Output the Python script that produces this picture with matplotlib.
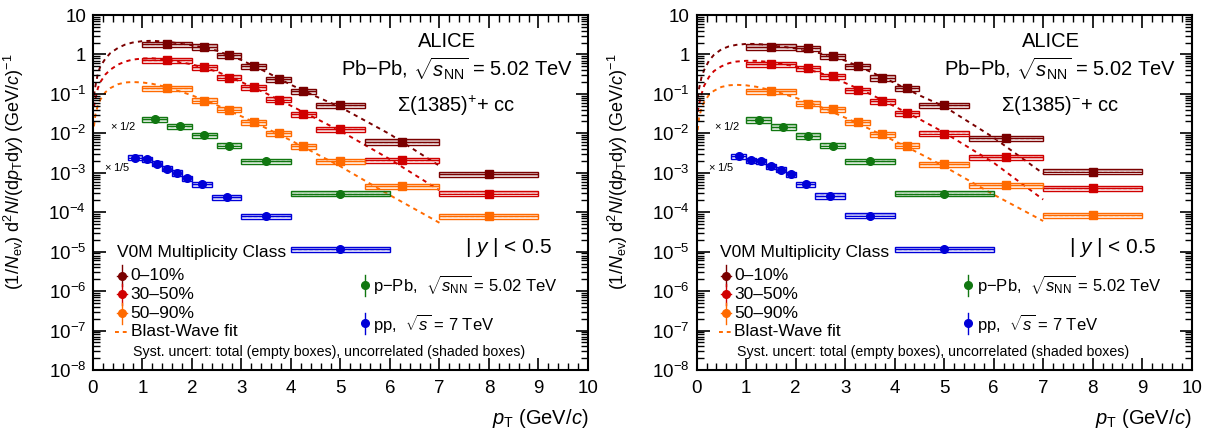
import numpy as np
import matplotlib
matplotlib.use("Agg")
import matplotlib.pyplot as plt
from matplotlib.ticker import MultipleLocator, LogLocator, FixedLocator, NullFormatter

plt.rcParams['font.family'] = ['Liberation Sans', 'DejaVu Sans']
plt.rcParams['mathtext.fontset'] = 'custom'
plt.rcParams['mathtext.rm'] = 'Liberation Sans'
plt.rcParams['mathtext.it'] = 'Liberation Sans:italic'
plt.rcParams['mathtext.bf'] = 'Liberation Sans:bold'

# Pb-Pb pT bins
pbpb_lo = [1.0, 2.0, 2.5, 3.0, 3.5, 4.0, 4.5, 5.5, 7.0]
pbpb_hi = [2.0, 2.5, 3.0, 3.5, 4.0, 4.5, 5.5, 7.0, 9.0]
pbpb_pt = [1.5, 2.25, 2.75, 3.25, 3.75, 4.25, 5.0, 6.25, 8.0]
# p-Pb pT bins (x 1/2)
ppb_lo = [1.0, 1.5, 2.0, 2.5, 3.0, 4.0]
ppb_hi = [1.5, 2.0, 2.5, 3.0, 4.0, 6.0]
ppb_pt = [1.25, 1.75, 2.25, 2.75, 3.5, 5.0]
# pp pT bins (x 1/5)
pp_lo = [0.7, 1.0, 1.2, 1.4, 1.6, 1.8, 2.0, 2.4, 3.0, 4.0]
pp_hi = [1.0, 1.2, 1.4, 1.6, 1.8, 2.0, 2.4, 3.0, 4.0, 6.0]
pp_pt = [0.85, 1.1, 1.3, 1.5, 1.7, 1.9, 2.2, 2.7, 3.5, 5.0]

# Sigma(1385)+ spectra
splus_0_10 = [1.84, 1.57, 0.95, 0.51, 0.238, 0.118, 0.051, 0.0061, 9.3e-4]
splus_30_50 = [0.71, 0.48, 0.26, 0.146, 0.072, 0.031, 0.0126, 2.05e-3, 2.97e-4]
splus_50_90 = [0.138, 0.068, 0.040, 0.019, 0.010, 0.0048, 1.97e-3, 4.6e-4, 7.9e-5]
splus_ppb = [0.0225, 0.0150, 0.0089, 0.0049, 1.96e-3, 2.95e-4]
splus_pp = [2.44e-3, 2.2e-3, 1.7e-3, 1.27e-3, 1.0e-3, 7.4e-4, 5.1e-4, 2.44e-4, 7.9e-5, 1.17e-5]

# Sigma(1385)- spectra
sminus_0_10 = [1.57, 1.43, 0.91, 0.51, 0.256, 0.138, 0.051, 7.6e-3, 1.07e-3]
sminus_30_50 = [0.57, 0.45, 0.278, 0.125, 0.066, 0.032, 0.0099, 2.45e-3, 4.0e-4]
sminus_50_90 = [0.118, 0.057, 0.041, 0.019, 0.0094, 0.0049, 1.65e-3, 4.8e-4, 8.4e-5]
sminus_ppb = [0.022, 0.0147, 0.0087, 0.0049, 1.96e-3, 2.95e-4]
sminus_pp = [2.63e-3, 2.1e-3, 1.95e-3, 1.47e-3, 1.2e-3, 9.1e-4, 5.1e-4, 2.6e-4, 8.2e-5, 1.17e-5]

# Blast-Wave fit curves
bw_pt = [0.02, 0.05, 0.1, 0.15, 0.25, 0.35, 0.5, 0.65, 0.8, 1.0, 1.2, 1.5,
         2.0, 2.5, 3.0, 3.5, 4.0, 4.5, 5.0, 6.0, 7.0]
bw_plus_0_10 = [0.09, 0.16, 0.33, 0.5, 0.78, 1.08, 1.45, 1.78, 2.0, 2.18, 2.22, 2.1,
                1.72, 1.25, 0.72, 0.36, 0.17, 0.087, 0.046, 0.0095, 1.5e-3]
bw_plus_30_50 = [0.047, 0.075, 0.14, 0.2, 0.31, 0.41, 0.55, 0.66, 0.74, 0.79, 0.8, 0.74,
                 0.56, 0.37, 0.2, 0.103, 0.05, 0.024, 0.0115, 2.2e-3, 3.6e-4]
bw_plus_50_90 = [0.015, 0.03, 0.052, 0.072, 0.11, 0.14, 0.175, 0.195, 0.2, 0.195, 0.18, 0.148,
                 0.092, 0.052, 0.027, 0.0135, 0.0066, 0.0031, 1.45e-3, 2.7e-4, 5.4e-5]
bw_minus_0_10 = [0.08, 0.14, 0.27, 0.4, 0.7, 0.98, 1.35, 1.6, 1.75, 1.85, 1.85, 1.72,
                 1.42, 1.07, 0.7, 0.37, 0.19, 0.092, 0.048, 0.0078, 9.6e-4]
bw_minus_30_50 = [0.035, 0.055, 0.1, 0.16, 0.27, 0.38, 0.5, 0.6, 0.66, 0.69, 0.69, 0.64,
                  0.5, 0.34, 0.19, 0.1, 0.048, 0.023, 0.0105, 1.8e-3, 2.1e-4]
bw_minus_50_90 = [0.012, 0.025, 0.045, 0.062, 0.095, 0.12, 0.15, 0.165, 0.17, 0.165, 0.152, 0.125,
                  0.08, 0.047, 0.025, 0.0128, 0.0064, 0.0031, 1.45e-3, 2.8e-4, 6e-5]

c_0_10 = '#7a0000'
c_30_50 = '#d00000'
c_50_90 = '#ff6a00'
c_ppb = '#117711'
c_pp = '#0000d8'

TOT = 0.15
UNC = 0.10


def draw_series(ax, pt, lo, hi, y, color, marker, ms):
    pt = np.array(pt); y = np.array(y)
    w = np.array(hi) - np.array(lo)
    # uncorrelated (shaded) boxes
    ax.bar(pt, y * 2 * UNC, width=w, bottom=y * (1 - UNC), color=color, alpha=0.3,
           edgecolor='white', hatch='...', linewidth=0, zorder=2)
    # total (empty) boxes
    ax.bar(pt, y * 2 * TOT, width=w, bottom=y * (1 - TOT), facecolor='none',
           edgecolor=color, linewidth=1.0, zorder=3)
    ax.errorbar(pt, y, xerr=w / 2, fmt=marker, color=color, ms=ms, lw=0.8, zorder=4)


def legend_mark(ax, x, y, color, marker, horiz):
    kw = dict(transform=ax.transAxes, clip_on=False, color=color)
    ax.plot([x, x], [y - 0.03, y + 0.03], lw=1, **kw)
    if horiz:
        ax.plot([x - 0.01, x + 0.01], [y, y], lw=1, **kw)
    ax.plot([x], [y], marker=marker, ms=5.5, ls='none', **kw)


def draw_panel(ax, d010, d3050, d5090, dppb, dpp, bw010, bw3050, bw5090, sigma_txt):
    ls = (0, (2.2, 2.2))
    ax.plot(bw_pt, bw010, ls=ls, color=c_0_10, lw=1.4, zorder=1)
    ax.plot(bw_pt, bw3050, ls=ls, color=c_30_50, lw=1.4, zorder=1)
    ax.plot(bw_pt, bw5090, ls=ls, color=c_50_90, lw=1.4, zorder=1)

    draw_series(ax, pbpb_pt, pbpb_lo, pbpb_hi, d010, c_0_10, 's', 6)
    draw_series(ax, pbpb_pt, pbpb_lo, pbpb_hi, d3050, c_30_50, 's', 6)
    draw_series(ax, pbpb_pt, pbpb_lo, pbpb_hi, d5090, c_50_90, 's', 6)
    draw_series(ax, ppb_pt, ppb_lo, ppb_hi, dppb, c_ppb, 'o', 5.5)
    draw_series(ax, pp_pt, pp_lo, pp_hi, dpp, c_pp, 'o', 5.5)

    ax.set_yscale('log')
    ax.set_xlim(0, 10)
    ax.set_ylim(1e-8, 10)
    ax.xaxis.set_major_locator(MultipleLocator(1))
    ax.xaxis.set_minor_locator(MultipleLocator(0.2))
    decades = [10.0 ** k for k in range(-8, 2)]
    ax.yaxis.set_major_locator(FixedLocator(decades))
    ax.yaxis.set_minor_locator(LogLocator(base=10, subs=np.arange(2, 10), numticks=50))
    ax.yaxis.set_minor_formatter(NullFormatter())
    ylabels = ['$10^{%d}$' % k for k in range(-8, 0)] + ['1', '10']
    ax.set_yticklabels(ylabels)
    ax.tick_params(which='both', direction='in', top=True, right=True, labelsize=13.5)
    ax.tick_params(which='major', length=9, width=1.2)
    ax.tick_params(which='minor', length=5, width=1)
    ax.tick_params(axis='x', pad=7)
    ax.tick_params(axis='y', pad=5)
    for s in ax.spines.values():
        s.set_linewidth(1.5)

    ax.set_xlabel(r'$p_{\rm T}$ (GeV/$c$)', fontsize=14.5, loc='right')
    ax.xaxis.set_label_coords(1.0, -0.105)
    ax.set_ylabel(r'(1/$N_{\rm ev}$) d$^{2}$$N$/(d$p_{\rm T}$d$y$) (GeV/$c$)$^{-1}$', fontsize=13)
    ax.yaxis.set_label_coords(-0.135, 0.56)

    t = ax.transAxes
    ax.text(0.715, 0.925, 'ALICE', transform=t, ha='center', va='center', fontsize=14.5)
    ax.text(0.735, 0.85, r'Pb$-$Pb, $\sqrt{s_{\rm NN}}$ = 5.02 TeV', transform=t,
            ha='center', va='center', fontsize=14.5)
    ax.text(0.735, 0.745, sigma_txt, transform=t, ha='center', va='center', fontsize=14.5)
    ax.text(0.84, 0.345, r'| $y$ | < 0.5', transform=t, ha='center', va='center', fontsize=15)
    ax.text(0.061, 0.687, r'$\times$ 1/2', transform=t, ha='center', va='center', fontsize=8)
    ax.text(0.049, 0.571, r'$\times$ 1/5', transform=t, ha='center', va='center', fontsize=8)

    ax.text(0.048, 0.33, 'V0M Multiplicity Class', transform=t, ha='left', va='center', fontsize=12.5)
    rows = [0.266, 0.213, 0.160, 0.108]
    labels = ['0–10%', '30–50%', '50–90%', 'Blast-Wave fit']
    cols = [c_0_10, c_30_50, c_50_90]
    for yy, c in zip(rows[:3], cols):
        legend_mark(ax, 0.059, yy, c, 'o', True)
    ax.plot([0.045, 0.072], [rows[3], rows[3]], ls=(0, (2, 2)), color=c_50_90, lw=1.4,
            transform=t, clip_on=False)
    for yy, lab in zip(rows, labels):
        ax.text(0.076, yy, lab, transform=t, ha='left', va='center', fontsize=12.5)

    legend_mark(ax, 0.549, 0.239, c_ppb, 'o', False)
    legend_mark(ax, 0.549, 0.132, c_pp, 'o', False)
    ax.text(0.566, 0.239, r'p$-$Pb,  $\sqrt{s_{\rm NN}}$ = 5.02 TeV', transform=t,
            ha='left', va='center', fontsize=12)
    ax.text(0.566, 0.132, r'pp,  $\sqrt{s}$ = 7 TeV', transform=t,
            ha='left', va='center', fontsize=12)
    ax.text(0.081, 0.052, 'Syst. uncert: total (empty boxes), uncorrelated (shaded boxes)',
            transform=t, ha='left', va='center', fontsize=10.2)


fig = plt.figure(figsize=(12.12, 4.30), dpi=100)
ax1 = fig.add_axes([0.0767, 0.1395, 0.4084, 0.8256])
ax2 = fig.add_axes([0.5748, 0.1395, 0.4084, 0.8256])

draw_panel(ax1, splus_0_10, splus_30_50, splus_50_90, splus_ppb, splus_pp,
           bw_plus_0_10, bw_plus_30_50, bw_plus_50_90, r'$\Sigma$(1385)$^{+}$+ cc')
draw_panel(ax2, sminus_0_10, sminus_30_50, sminus_50_90, sminus_ppb, sminus_pp,
           bw_minus_0_10, bw_minus_30_50, bw_minus_50_90, r'$\Sigma$(1385)$^{-}$+ cc')

fig.savefig('out.png', dpi=100)
